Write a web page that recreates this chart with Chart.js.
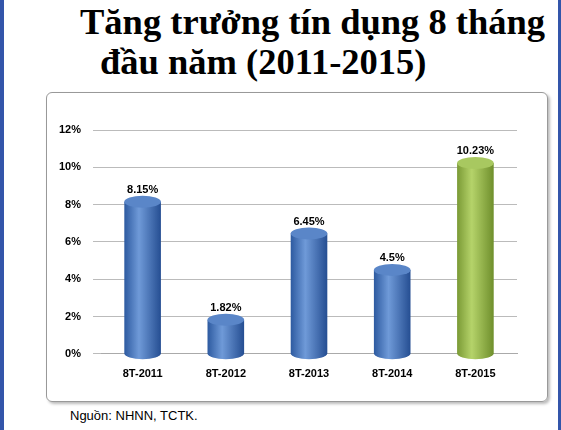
<!DOCTYPE html>
<html><head><meta charset="utf-8">
<script src="https://cdn.jsdelivr.net/npm/chart.js@4"></script>
<style>
body{margin:0;width:561px;height:430px;background:#fff;position:relative;overflow:hidden;font-family:"Liberation Sans",Arial,sans-serif}
#t1,#t2{position:absolute;font-family:"Liberation Serif","Times New Roman",serif;font-weight:bold;font-size:36.5px;color:#000;white-space:nowrap}
#t1{left:80px;top:0px}#t2{left:100px;top:40px}
#frame{position:absolute;left:46px;top:92px;width:500px;height:308px;border:1px solid #999;border-radius:6px;box-shadow:2px 2px 3px #bbb}
#src{position:absolute;left:70px;top:408px;font-size:13px}
#lb{position:absolute;left:0;top:0;width:4px;height:430px;background:#3355aa}
#rb{position:absolute;right:0;top:0;width:3px;height:430px;background:#3355aa}
#wrap{position:absolute;left:47px;top:93px;width:500px;height:308px}
</style></head><body>
<div id="lb"></div><div id="rb"></div>
<div id="t1">Tăng trưởng tín dụng 8 tháng</div>
<div id="t2">đầu năm (2011-2015)</div>
<div id="frame"></div>
<div id="wrap"><canvas id="c" width="500" height="308"></canvas></div>
<div id="src">Nguồn: NHNN, TCTK.</div>
<script>
const categories=["8T-2011","8T-2012","8T-2013","8T-2014","8T-2015"];
const values=[8.15,1.82,6.45,4.5,10.23];
const labels=["8.15%","1.82%","6.45%","4.5%","10.23%"];
const yTicks=[0,2,4,6,8,10,12];
const cyl={id:'cyl',afterDatasetsDraw(ch){
 const ctx=ch.ctx,m=ch.getDatasetMeta(0);
 m.data.forEach((b,i)=>{
  const w=b.width,x0=b.x-w/2,ey=6;
  const green=i===4;
  const g=ctx.createLinearGradient(x0,0,x0+w,0);
  if(green){g.addColorStop(0,'#7a9a35');g.addColorStop(0.4,'#b5d36a');g.addColorStop(1,'#6f8f2c');}
  else{g.addColorStop(0,'#2d5aa0');g.addColorStop(0.4,'#6f9ad8');g.addColorStop(1,'#254e92');}
  ctx.save();ctx.fillStyle=g;
  ctx.beginPath();ctx.moveTo(x0,b.y);ctx.lineTo(x0,b.base);
  ctx.ellipse(b.x,b.base,w/2,ey,0,Math.PI,0,true);
  ctx.lineTo(x0+w,b.y);ctx.closePath();ctx.fill();
  ctx.fillStyle=green?'#a8c860':'#5a86c8';
  ctx.beginPath();ctx.ellipse(b.x,b.y,w/2,ey,0,0,Math.PI*2);ctx.fill();
  ctx.fillStyle='#000';ctx.font='bold 11px "Liberation Sans",Arial';ctx.textAlign='center';
  ctx.fillText(labels[i],b.x,b.y-9);
  ctx.restore();
 });
}};
new Chart(document.getElementById('c'),{type:'bar',
 data:{labels:categories,datasets:[{data:values,backgroundColor:'rgba(0,0,0,0)',barPercentage:0.44,categoryPercentage:1}]},
 options:{responsive:false,animation:false,layout:{padding:{left:0,right:30,top:37,bottom:14}},
  plugins:{legend:{display:false},tooltip:{enabled:false}},
  scales:{x:{grid:{display:false},border:{color:'#aaa'},ticks:{color:'#000',font:{size:11,weight:'bold'},padding:6}},
   y:{min:0,max:12,afterBuildTicks:a=>{a.ticks=yTicks.map(v=>({value:v}))},grid:{color:'#bbb'},border:{display:false},
    ticks:{color:'#000',font:{size:11,weight:'bold'},callback:v=>v+'%',padding:12}}}},
 plugins:[cyl]});
</script></body></html>
